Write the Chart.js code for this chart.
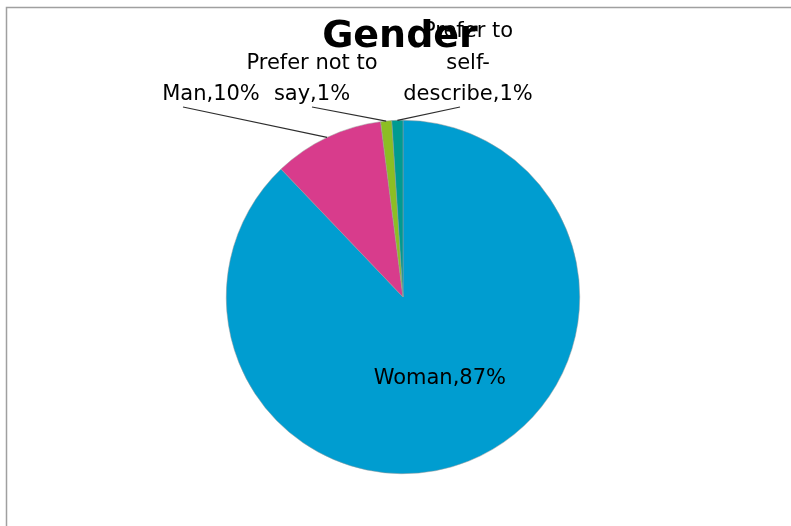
<!DOCTYPE html>
<html>
<head>
<meta charset="utf-8">
<title>Gender</title>
<script src="https://cdn.jsdelivr.net/npm/chart.js@4.4.1/dist/chart.umd.min.js"></script>
<style>
  html, body { margin: 0; padding: 0; background: #fff; }
  #wrap { width: 791px; height: 526px; }
</style>
</head>
<body>
<div id="wrap"><canvas id="genderChart" width="791" height="526"></canvas></div>
<script>
// gender split, percent of respondents (line breaks used by the data labels)
const categories = ['Woman', 'Man', 'Prefer not to\nsay', 'Prefer to\nself-\ndescribe'];
const percents = [87, 10, 1, 1];
const sliceColors = ['#009dd0', '#d83c8c', '#8cbe23', '#009b91'];

// where the outside labels sit: centre x, baseline of last line, leader line start
const labelSpots = [
  null,
  { x: 211, y: 100, lx: 183, ly: 107 },
  { x: 312, y: 100, lx: 312, ly: 107 },
  { x: 468, y: 100, lx: 460, ly: 107 },
];

const FONT = '"DejaVu Sans", Verdana, sans-serif';

const frameAndLabels = {
  id: 'frameAndLabels',
  beforeDraw(chart) {
    const ctx = chart.ctx;
    ctx.save();
    ctx.fillStyle = '#fff';
    ctx.fillRect(0, 0, chart.width, chart.height);
    // chart frame, only the top and left edges fall inside the canvas
    ctx.strokeStyle = '#a0a0a0';
    ctx.lineWidth = 1.5;
    ctx.beginPath();
    ctx.moveTo(6.5, chart.height);
    ctx.lineTo(6.5, 7.5);
    ctx.lineTo(chart.width, 7.5);
    ctx.stroke();
    ctx.restore();
  },
  afterDraw(chart) {
    const ctx = chart.ctx;
    const arcs = chart.getDatasetMeta(0).data;
    ctx.save();

    // title
    ctx.fillStyle = '#000';
    ctx.font = 'bold 38px ' + FONT;
    ctx.textAlign = 'center';
    ctx.textBaseline = 'alphabetic';
    ctx.fillText('Gender', 400, 47);

    ctx.font = '21px ' + FONT;
    arcs.forEach((arc, i) => {
      const text = categories[i] + ',' + percents[i] + '%';
      const lines = text.split('\n');
      const spot = labelSpots[i];
      if (!spot) {
        // inside label
        const p = arc.getCenterPoint();
        ctx.textBaseline = 'middle';
        ctx.fillText(lines.join(' '), p.x + 4, p.y);
        return;
      }
      // leader line to the rim at the slice's mid angle
      const mid = (arc.startAngle + arc.endAngle) / 2;
      const ex = arc.x + Math.cos(mid) * arc.outerRadius;
      const ey = arc.y + Math.sin(mid) * arc.outerRadius;
      ctx.strokeStyle = '#2e2e2e';
      ctx.lineWidth = 1.2;
      ctx.beginPath();
      ctx.moveTo(spot.lx, spot.ly);
      ctx.lineTo(ex, ey);
      ctx.stroke();

      ctx.textBaseline = 'alphabetic';
      const step = 31.5;
      lines.forEach((ln, k) => {
        ctx.fillText(ln, spot.x, spot.y - (lines.length - 1 - k) * step);
      });
    });
    ctx.restore();
  }
};

new Chart(document.getElementById('genderChart'), {
  type: 'pie',
  data: {
    labels: categories,
    datasets: [{
      data: percents,
      backgroundColor: sliceColors,
      borderColor: '#9a9a9a',
      borderWidth: 0.5,
      hoverOffset: 0,
    }],
  },
  options: {
    responsive: false,
    animation: false,
    events: [],
    layout: { padding: { left: 226, right: 211, top: 120, bottom: 52 } },
    plugins: {
      legend: { display: false },
      tooltip: { enabled: false },
      title: { display: false },
    },
  },
  plugins: [frameAndLabels],
});
</script>
</body>
</html>
